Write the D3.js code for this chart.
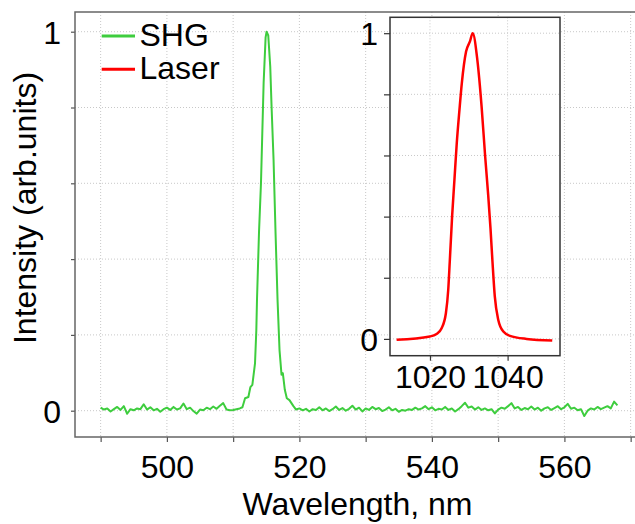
<!DOCTYPE html>
<html>
<head>
<meta charset="utf-8">
<script src="https://cdn.jsdelivr.net/npm/d3@7"></script>
<style>
  body { margin: 0; background: #fff; }
  svg { display: block; font-family: "Liberation Sans", Arial, sans-serif; }
  .grid line { stroke: #c8c8c8; stroke-width: 1; stroke-dasharray: 1,2; }
  .tick text { font-size: 32px; fill: #000; }
</style>
</head>
<body>
<script>
// SHG spectrum (main plot)
var shgWavelength = [
  490, 490.5, 491, 491.5, 492, 492.5, 493, 493.5, 494, 494.5, 495, 495.5, 496, 496.5, 497, 497.5,
  498, 498.5, 499, 499.5, 500, 500.5, 501, 501.5, 502, 502.5, 503, 503.5, 504, 504.5, 505, 505.5,
  506, 506.5, 507, 507.5, 508, 508.5, 509, 509.5, 510, 510.5, 511,
  511.4, 511.8, 512.3, 512.6, 512.9, 513.3, 513.5, 513.6, 513.9, 514.2, 514.4, 514.6, 514.9, 515.05,
  515.3, 515.6, 515.8, 516.1, 516.4, 516.7, 517.0, 517.3, 517.5, 517.8, 518.1, 518.5, 519.1, 519.5, 520,
  520.5, 521, 521.5, 522, 522.5, 523, 523.5, 524, 524.5, 525, 525.5, 526, 526.5, 527, 527.5, 528,
  528.5, 529, 529.5, 530, 530.5, 531, 531.5, 532, 532.5, 533, 533.5, 534, 534.5, 535, 535.5, 536,
  536.5, 537, 537.5, 538, 538.5, 539, 539.5, 540, 540.5, 541, 541.5, 542, 542.5, 543, 543.5, 544,
  544.5, 545, 545.5, 546, 546.5, 547, 547.5, 548, 548.5, 549, 549.5, 550, 550.5, 551, 551.5, 552,
  552.5, 553, 553.5, 554, 554.5, 555, 555.5, 556, 556.5, 557, 557.5, 558, 558.5, 559, 559.5, 560,
  560.5, 561, 561.5, 562, 562.5, 563, 563.5, 564, 564.5, 565, 565.5, 566, 566.5, 567, 567.5, 568
];
var shgIntensity = [
  0.008, 0.003, 0.006, -0.002, 0.004, 0.010, 0.002, 0.012, -0.008, 0.004, 0.001, 0.006, 0.004, 0.017, 0.003, 0.009,
  0.001, 0.005, -0.003, 0.004, 0.008, 0.002, 0.010, 0.003, 0.006, 0.019, 0.004, 0.008, -0.001, -0.008, 0.003, 0.001,
  0.008, 0.004, 0.011, 0.005, 0.013, 0.020, 0.003, 0.001, 0.002, 0.004, 0.006,
  0.009, 0.033, 0.036, 0.062, 0.068, 0.125, 0.213, 0.293, 0.469, 0.600, 0.732, 0.864, 0.985, 1.0,
  0.990, 0.908, 0.802, 0.662, 0.469, 0.293, 0.160, 0.095, 0.099, 0.055, 0.033, 0.028, 0.012, 0.003, 0.006,
  0.001, 0.005, -0.002, 0.004, 0.002, 0.009, 0.001, 0.006, -0.001, 0.004, 0.011, 0.002, 0.007, 0.000, 0.005, 0.013,
  0.003, 0.008, -0.002, 0.006, 0.002, 0.010, 0.004, 0.007, -0.001, 0.003, 0.009, 0.001, 0.005, -0.003, 0.002, 0.000,
  0.004, 0.002, 0.008, 0.003, 0.006, 0.012, 0.004, 0.009, 0.001, 0.005, 0.003, 0.010, 0.002, 0.006, -0.002, 0.004,
  0.012, 0.021, 0.008, 0.011, 0.003, 0.009, 0.002, 0.006, 0.001, 0.004, -0.007, 0.003, 0.008, 0.005, 0.012, 0.020,
  0.006, 0.010, 0.002, 0.007, 0.004, 0.011, 0.003, 0.008, 0.000, 0.006, 0.009, 0.002, 0.007, 0.012, 0.004, 0.009,
  0.018, 0.005, 0.008, 0.001, 0.004, -0.014, 0.000, 0.006, 0.003, 0.010, 0.004, 0.008, 0.012, 0.006, 0.024, 0.014
];

// Laser spectrum (inset)
var laserWavelength = [
  1011.4, 1020, 1021.7, 1023, 1024.1, 1024.7, 1025.1, 1025.7, 1026.3, 1026.9, 1027.6, 1028.2, 1029.3,
  1030.3, 1031, 1032.2, 1033.3, 1034.2, 1035, 1035.6, 1036.1, 1036.7, 1037.6, 1038.9, 1040.6, 1044.9, 1051.5
];
var laserIntensity = [
  -0.003, 0.008, 0.016, 0.035, 0.084, 0.16, 0.253, 0.40, 0.52, 0.64, 0.75, 0.836, 0.94,
  0.973, 1.0, 0.913, 0.76, 0.60, 0.47, 0.36, 0.253, 0.139, 0.062, 0.024, 0.01, 0.0, -0.005
];

var mainYTicks = [0, 0.2, 0.4, 0.6, 0.8, 1];
var mainYLabels = ["0", "1"];
var mainXTicks = [490, 500, 510, 520, 530, 540, 550, 560, 570];
var mainXLabels = [500, 520, 540, 560];
var insetYTicks = [0, 0.2, 0.4, 0.6, 0.8, 1];
var insetXTicks = [1020, 1040];

var legendNames = ["SHG", "Laser"];
var legendColors = ["#3ecd3e", "#ff0000"];

var W = 635, H = 524;

var svg = d3.select("body").append("svg")
    .attr("width", W)
    .attr("height", H);

// main plot
var m = {left: 75, right: 640, top: 12, bottom: 437};

var x = d3.scaleLinear().domain([486.13, 571.41]).range([m.left, m.right]);
var y = d3.scaleLinear().domain([-0.0694, 1.052]).range([m.bottom, m.top]);

svg.append("g").attr("class", "grid")
  .selectAll("line").data(mainYTicks).enter().append("line")
    .attr("x1", m.left).attr("x2", m.right)
    .attr("y1", d => y(d)).attr("y2", d => y(d));

svg.append("g").attr("class", "grid")
  .selectAll("line").data(mainXTicks).enter().append("line")
    .attr("x1", d => x(d)).attr("x2", d => x(d))
    .attr("y1", m.top).attr("y2", m.bottom);

var xAxis = d3.axisBottom(x)
    .tickValues(mainXTicks)
    .tickSize(5)
    .tickPadding(14)
    .tickFormat(d => mainXLabels.indexOf(d) >= 0 ? d : "");

var gx = svg.append("g")
    .attr("transform", "translate(0," + m.bottom + ")")
    .call(xAxis);
gx.select(".domain").remove();
gx.selectAll(".tick line").attr("stroke", "#555").attr("stroke-width", 1.2);
gx.selectAll(".tick text").attr("dy", "0.75em").attr("y", 17);

var yAxis = d3.axisLeft(y)
    .tickValues(mainYTicks)
    .tickSize(4)
    .tickPadding(10)
    .tickFormat(d => mainYLabels.indexOf(String(d)) >= 0 ? d : "");

var gy = svg.append("g")
    .attr("transform", "translate(" + m.left + ",0)")
    .call(yAxis);
gy.select(".domain").remove();
gy.selectAll(".tick line").attr("stroke", "#555").attr("stroke-width", 1.2);
gy.selectAll(".tick text").attr("dy", "0.36em");

// frame (top, left, bottom)
svg.append("path")
    .attr("d", "M" + m.right + "," + m.top + "H" + m.left + "V" + m.bottom + "H" + m.right)
    .attr("fill", "none")
    .attr("stroke", "#666")
    .attr("stroke-width", 1.5);

var line = d3.line()
    .x(d => x(d[0]))
    .y(d => y(d[1]));

svg.append("path")
    .datum(d3.zip(shgWavelength, shgIntensity))
    .attr("d", line)
    .attr("fill", "none")
    .attr("stroke", legendColors[0])
    .attr("stroke-width", 2)
    .attr("stroke-linejoin", "round");

// axis titles
svg.append("text")
    .attr("x", (m.left + m.right) / 2)
    .attr("y", 515)
    .attr("text-anchor", "middle")
    .style("font-size", "32px")
    .text("Wavelength, nm");

svg.append("text")
    .attr("transform", "translate(36,208) rotate(-90)")
    .attr("text-anchor", "middle")
    .style("font-size", "32px")
    .text("Intensity (arb.units)");

// legend
var leg = svg.append("g").selectAll("g")
    .data(legendNames)
  .enter().append("g")
    .attr("transform", (d, i) => "translate(0," + (36 + i * 33.3) + ")");

leg.append("line")
    .attr("x1", 101.7).attr("x2", 135)
    .attr("stroke", (d, i) => legendColors[i])
    .attr("stroke-width", 3);

leg.append("text")
    .attr("x", 139.5)
    .attr("y", 9.5)
    .style("font-size", "32px")
    .text(d => d);

// inset
var n = {left: 390, right: 560, top: 17.3, bottom: 355.7};

var ix = d3.scaleLinear().domain([1009.7, 1053.5]).range([n.left, n.right]);
var iy = d3.scaleLinear().domain([-0.055, 1.052]).range([n.bottom, n.top]);

svg.append("rect")
    .attr("x", n.left).attr("y", n.top)
    .attr("width", n.right - n.left).attr("height", n.bottom - n.top)
    .attr("fill", "#fff");

svg.append("g").attr("class", "grid")
  .selectAll("line").data(insetYTicks).enter().append("line")
    .attr("x1", n.left).attr("x2", n.right)
    .attr("y1", d => iy(d)).attr("y2", d => iy(d));

svg.append("g").attr("class", "grid")
  .selectAll("line").data(insetXTicks).enter().append("line")
    .attr("x1", d => ix(d)).attr("x2", d => ix(d))
    .attr("y1", n.top).attr("y2", n.bottom);

var ixAxis = d3.axisBottom(ix)
    .tickValues(insetXTicks)
    .tickSize(5)
    .tickFormat(d3.format("d"));

var gix = svg.append("g")
    .attr("transform", "translate(0," + n.bottom + ")")
    .call(ixAxis);
gix.select(".domain").remove();
gix.selectAll(".tick line").attr("stroke", "#333").attr("stroke-width", 1.2);
gix.selectAll(".tick text").attr("dy", "0.75em").attr("y", 8);

var iyAxis = d3.axisLeft(iy)
    .tickValues(insetYTicks)
    .tickSize(6)
    .tickPadding(6)
    .tickFormat(d => (d === 0 || d === 1) ? d : "");

var giy = svg.append("g")
    .attr("transform", "translate(" + n.left + ",0)")
    .call(iyAxis);
giy.select(".domain").remove();
giy.selectAll(".tick line").attr("stroke", "#333").attr("stroke-width", 1.2);
giy.selectAll(".tick text").attr("dy", "0.36em");

svg.append("rect")
    .attr("x", n.left).attr("y", n.top)
    .attr("width", n.right - n.left).attr("height", n.bottom - n.top)
    .attr("fill", "none")
    .attr("stroke", "#333")
    .attr("stroke-width", 1.5);

var iline = d3.line()
    .curve(d3.curveMonotoneX)
    .x(d => ix(d[0]))
    .y(d => iy(d[1]));

svg.append("path")
    .datum(d3.zip(laserWavelength, laserIntensity))
    .attr("d", iline)
    .attr("fill", "none")
    .attr("stroke", legendColors[1])
    .attr("stroke-width", 2.5)
    .attr("stroke-linejoin", "round");
</script>
</body>
</html>
